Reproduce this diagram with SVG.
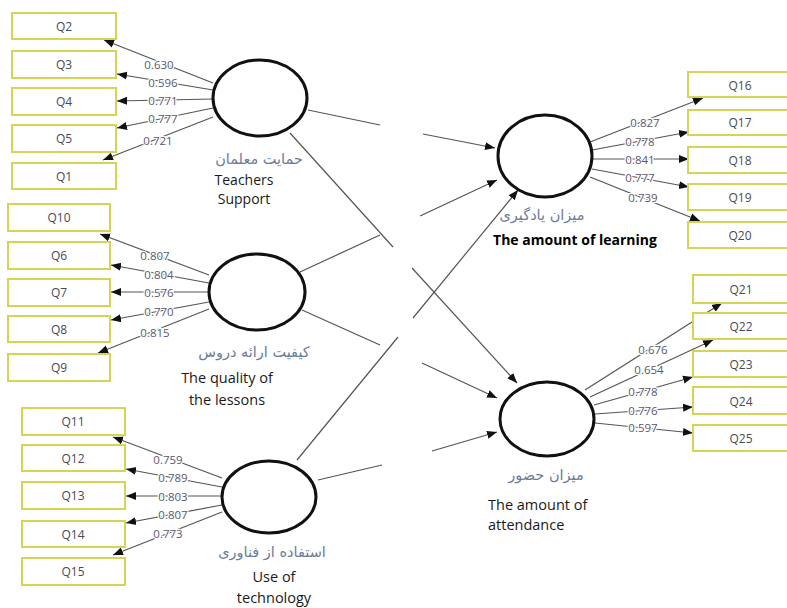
<svg xmlns="http://www.w3.org/2000/svg" width="787" height="608" viewBox="0 0 787 608">
<style>
.box{fill:#fff;stroke:#d6d455;stroke-width:2}
.q{font-family:"Open Sans","Liberation Sans",sans-serif;font-size:12px;fill:#4a4a55;text-anchor:middle;dominant-baseline:central}
.lv{fill:#fff;stroke:#111;stroke-width:3}
.ln{stroke:#555;stroke-width:1.2;fill:none;marker-end:url(#ah)}
.pl{stroke:#555;stroke-width:1.2;fill:none}
.ld{font-family:"Open Sans","Liberation Sans",sans-serif;font-size:11.5px;fill:#5b5670;text-anchor:middle;dominant-baseline:central;paint-order:stroke;stroke:#fff;stroke-width:2.5px}
.fa{font-family:"DejaVu Sans","Noto Sans",sans-serif;font-size:14.5px;fill:#6b7b9a;text-anchor:middle}
.en{font-family:"Open Sans","Liberation Sans",sans-serif;font-size:14.5px;fill:#1a1a1a;text-anchor:middle}
</style>
<defs>
<marker id="ah" markerUnits="userSpaceOnUse" markerWidth="10" markerHeight="10" viewBox="0 0 10 10" refX="10" refY="5" orient="auto">
<path d="M0,1 L10,5 L0,9 Z" fill="#111"/>
</marker>
</defs>
<rect width="787" height="608" fill="#fff"/>

<g id="connectors">
<!-- structural paths with gaps -->
<path class="pl" d="M308,110 L380,125"/>
<path class="ln" d="M423,134 L495,148"/>
<path class="pl" d="M290,133 L393,247"/>
<path class="ln" d="M412,268 L517,383"/>
<path class="pl" d="M300,272 L380,235"/>
<path class="ln" d="M420,216 L497,180"/>
<path class="pl" d="M302,310 L380,345"/>
<path class="ln" d="M422,363 L497,398"/>
<path class="pl" d="M297,460 L398,337"/>
<path class="ln" d="M413,318 L518,190"/>
<path class="pl" d="M318,480 L382,465"/>
<path class="ln" d="M432,451 L497,432"/>
<!-- teachers loadings -->
<path class="ln" d="M213,83 L104,40"/>
<path class="ln" d="M213,90 L117,74"/>
<path class="ln" d="M213,99 L117,101"/>
<path class="ln" d="M213,108 L117,128"/>
<path class="ln" d="M213,117 L103,160"/>
<!-- quality loadings -->
<path class="ln" d="M209,275 L100,234"/>
<path class="ln" d="M209,283 L111,265"/>
<path class="ln" d="M209,292 L111,292"/>
<path class="ln" d="M209,302 L111,320"/>
<path class="ln" d="M209,309 L98,353"/>
<!-- technology loadings -->
<path class="ln" d="M222,478 L113,437"/>
<path class="ln" d="M222,487 L126,469"/>
<path class="ln" d="M222,496 L126,496"/>
<path class="ln" d="M222,505 L126,523"/>
<path class="ln" d="M222,512 L113,555"/>
<!-- learning loadings -->
<path class="ln" d="M590,142 L703,98"/>
<path class="ln" d="M592,150 L689,132"/>
<path class="ln" d="M593,159 L689,159"/>
<path class="ln" d="M592,169 L689,187"/>
<path class="ln" d="M590,177 L700,221"/>
<!-- attendance loadings -->
<path class="ln" d="M585,390 L722,303"/>
<path class="ln" d="M590,397 L713,340"/>
<path class="ln" d="M594,405 L693,377"/>
<path class="ln" d="M595,414 L693,407"/>
<path class="ln" d="M595,423 L693,433"/>
<!-- loading labels -->
<text class="ld" x="159" y="64">0.630</text>
<text class="ld" x="163" y="82">0.596</text>
<text class="ld" x="163" y="100">0.771</text>
<text class="ld" x="163" y="118">0.777</text>
<text class="ld" x="158" y="140">0.721</text>
<text class="ld" x="155" y="255">0.807</text>
<text class="ld" x="159" y="274">0.804</text>
<text class="ld" x="159" y="292">0.576</text>
<text class="ld" x="159" y="311">0.770</text>
<text class="ld" x="155" y="332">0.815</text>
<text class="ld" x="168" y="459">0.759</text>
<text class="ld" x="173" y="477">0.789</text>
<text class="ld" x="173" y="496">0.803</text>
<text class="ld" x="173" y="514">0.807</text>
<text class="ld" x="168" y="533">0.773</text>
<text class="ld" x="645" y="122">0.827</text>
<text class="ld" x="640" y="141">0.778</text>
<text class="ld" x="640" y="159">0.841</text>
<text class="ld" x="640" y="177">0.777</text>
<text class="ld" x="643" y="197">0.739</text>
<text class="ld" x="653" y="349">0.676</text>
<text class="ld" x="649" y="369">0.654</text>
<text class="ld" x="643" y="391">0.778</text>
<text class="ld" x="643" y="410">0.776</text>
<text class="ld" x="643" y="427">0.597</text>
</g>

<!-- indicator boxes -->
<g id="Q2"><rect class="box" x="12" y="13" width="104" height="26"/><text class="q" x="64" y="26">Q2</text></g>
<g id="Q3"><rect class="box" x="12" y="51" width="104" height="27"/><text class="q" x="64" y="64">Q3</text></g>
<g id="Q4"><rect class="box" x="12" y="88" width="104" height="27"/><text class="q" x="64" y="101">Q4</text></g>
<g id="Q5"><rect class="box" x="12" y="125" width="104" height="27"/><text class="q" x="64" y="138">Q5</text></g>
<g id="Q1"><rect class="box" x="12" y="163" width="104" height="26"/><text class="q" x="64" y="176">Q1</text></g>

<g id="Q10"><rect class="box" x="8" y="204" width="102" height="27"/><text class="q" x="59" y="217">Q10</text></g>
<g id="Q6"><rect class="box" x="8" y="242" width="102" height="27"/><text class="q" x="59" y="255">Q6</text></g>
<g id="Q7"><rect class="box" x="8" y="279" width="102" height="27"/><text class="q" x="59" y="292">Q7</text></g>
<g id="Q8"><rect class="box" x="8" y="316" width="102" height="26"/><text class="q" x="59" y="329">Q8</text></g>
<g id="Q9"><rect class="box" x="8" y="354" width="102" height="27"/><text class="q" x="59" y="367">Q9</text></g>

<g id="Q11"><rect class="box" x="22" y="408" width="103" height="27"/><text class="q" x="73" y="421">Q11</text></g>
<g id="Q12"><rect class="box" x="22" y="445" width="103" height="26"/><text class="q" x="73" y="458">Q12</text></g>
<g id="Q13"><rect class="box" x="22" y="482" width="103" height="27"/><text class="q" x="73" y="495">Q13</text></g>
<g id="Q14"><rect class="box" x="22" y="521" width="103" height="26"/><text class="q" x="73" y="534">Q14</text></g>
<g id="Q15"><rect class="box" x="22" y="558" width="103" height="27"/><text class="q" x="73" y="571">Q15</text></g>

<g id="Q16"><rect class="box" x="688" y="72" width="104" height="25"/><text class="q" x="740" y="85">Q16</text></g>
<g id="Q17"><rect class="box" x="688" y="110" width="104" height="25"/><text class="q" x="740" y="122">Q17</text></g>
<g id="Q18"><rect class="box" x="688" y="147" width="104" height="26"/><text class="q" x="740" y="160">Q18</text></g>
<g id="Q19"><rect class="box" x="688" y="184" width="104" height="26"/><text class="q" x="740" y="197">Q19</text></g>
<g id="Q20"><rect class="box" x="688" y="222" width="104" height="26"/><text class="q" x="740" y="235">Q20</text></g>

<g id="Q21"><rect class="box" x="693" y="275" width="100" height="28"/><text class="q" x="741" y="289">Q21</text></g>
<g id="Q22"><rect class="box" x="693" y="313" width="100" height="26"/><text class="q" x="741" y="326">Q22</text></g>
<g id="Q23"><rect class="box" x="693" y="351" width="100" height="26"/><text class="q" x="741" y="364">Q23</text></g>
<g id="Q24"><rect class="box" x="693" y="387" width="100" height="27"/><text class="q" x="741" y="401">Q24</text></g>
<g id="Q25"><rect class="box" x="693" y="425" width="100" height="26"/><text class="q" x="741" y="438">Q25</text></g>

<!-- latent variables -->
<g id="teachers-support">
<ellipse class="lv" cx="260" cy="98" rx="47" ry="38"/>
<text class="fa" x="259" y="164">حمایت معلمان</text>
<text class="en" x="244" y="185" style="font-size:14px">Teachers</text>
<text class="en" x="244" y="204" style="font-size:14px">Support</text>
</g>
<g id="quality-of-lessons">
<ellipse class="lv" cx="257" cy="292" rx="48" ry="38"/>
<text class="fa" x="254" y="357">کیفیت ارائه دروس</text>
<text class="en" x="227" y="383">The quality of</text>
<text class="en" x="227" y="405">the lessons</text>
</g>
<g id="use-of-technology">
<ellipse class="lv" cx="269" cy="497" rx="47" ry="36"/>
<text class="fa" x="272" y="557">استفاده از فناوری</text>
<text class="en" x="274" y="582">Use of</text>
<text class="en" x="274" y="603">technology</text>
</g>
<g id="amount-of-learning">
<ellipse class="lv" cx="545" cy="156" rx="47" ry="41"/>
<text class="fa" x="542" y="220">میزان یادگیری</text>
<text class="en" x="575" y="245" style="font-weight:bold;font-size:14px;fill:#000">The amount of learning</text>
</g>
<g id="amount-of-attendance">
<ellipse class="lv" cx="547" cy="419" rx="47" ry="37"/>
<text class="fa" x="546" y="480">میزان حضور</text>
<text class="en" x="488" y="510" style="text-anchor:start">The amount of</text>
<text class="en" x="488" y="530" style="text-anchor:start">attendance</text>
</g>
</svg>
